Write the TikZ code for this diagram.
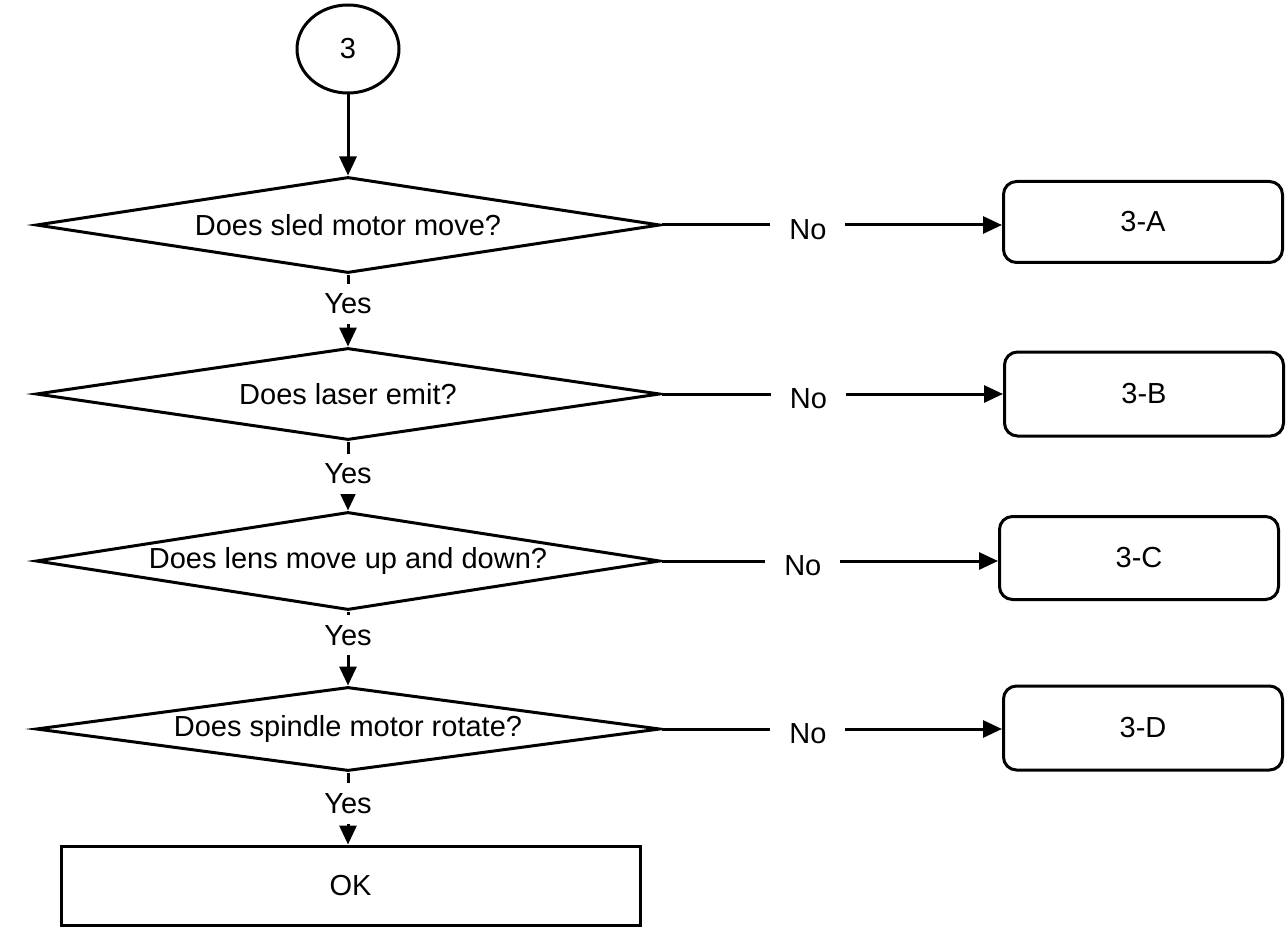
\documentclass[tikz,border=0pt]{standalone}
\usepackage{fontspec}
\setmainfont{Liberation Sans}
\usetikzlibrary{shapes.geometric,arrows.meta}
\tikzset{
  txt/.style={font=\fontsize{29pt}{35pt}\selectfont},
  base/.style={txt, draw=black, line width=3pt, inner sep=0pt},
  startnode/.style={base, ellipse, minimum width=102pt, minimum height=88pt},
  decision/.style={base, diamond, aspect=7, minimum width=624pt},
  endbox/.style={base, rectangle, minimum width=579pt, minimum height=79pt},
  subbox/.style={base, rectangle, rounded corners=13pt, minimum width=279pt, minimum height=81pt},
  arr/.style={line width=3pt, -{Triangle[length=19pt,width=17pt]}},
  yeslab/.style={txt, fill=white, inner xsep=4pt, inner ysep=10pt},
  nolab/.style={txt, fill=white, inner xsep=19pt, inner ysep=3pt}
}
\begin{document}
\begin{tikzpicture}[x=1pt,y=1pt]
\useasboundingbox[fill=white] (0,0) rectangle (1288,-928);
\node[startnode] (c3) at (348,-49) {3};
\node[decision, minimum height=96pt] (d1) at (348,-225) {Does sled motor move?};
\node[decision, minimum height=92pt] (d2) at (348,-394) {Does laser emit?};
\node[decision, minimum height=98pt] (d3) at (348,-561) {Does lens move up and down?};
\node[decision, minimum height=84pt] (d4) at (348,-729) {Does spindle motor rotate?};
\node[endbox] (ok) at (350.5,-885.5) {OK};
\node[subbox] (bA) at (1143,-222) {3-A};
\node[subbox, minimum height=84pt] (bB) at (1144,-394) {3-B};
\node[subbox, minimum height=83pt] (bC) at (1139,-558) {3-C};
\node[subbox, minimum height=84pt] (bD) at (1143,-728) {3-D};

\draw[arr] (c3.south) -- (d1.north);
\draw[arr] (d1.south) -- node[yeslab, pos=0.41] {Yes} (d2.north);
\draw[arr] (d2.south) -- node[yeslab, pos=0.47] {Yes} (d3.north);
\draw[arr] (d3.south) -- node[yeslab, pos=0.32] {Yes} (d4.north);
\draw[arr] (d4.south) -- node[yeslab, pos=0.43] {Yes} (d4.south |- ok.north);

\draw[arr] (d1.east) -- node[nolab, pos=0.43, yshift=-5pt] {No} (d1.east -| bA.west);
\draw[arr] (d2.east) -- node[nolab, pos=0.43, yshift=-5pt] {No} (d2.east -| bB.west);
\draw[arr] (d3.east) -- node[nolab, pos=0.42, yshift=-5pt] {No} (d3.east -| bC.west);
\draw[arr] (d4.east) -- node[nolab, pos=0.43, yshift=-5pt] {No} (d4.east -| bD.west);
\end{tikzpicture}
\end{document}
